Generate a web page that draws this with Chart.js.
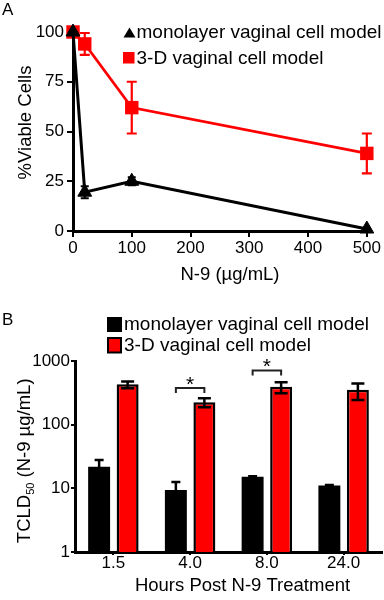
<!DOCTYPE html>
<html lang="en">
<head>
<meta charset="UTF-8">
<title>N-9 toxicity: monolayer vs 3-D vaginal cell models</title>
<script src="https://cdn.jsdelivr.net/npm/chart.js"></script>
<style>
    body { margin: 0; background: #fff; }
    .panel { position: relative; width: 384px; height: 300px; }
</style>
</head>
<body>
<div class="panel"><canvas id="chartA" width="384" height="300"></canvas></div>
<div class="panel"><canvas id="chartB" width="384" height="300"></canvas></div>
<script>
// ---- Panel A data: % viable cells vs N-9 dose ----
const doses = [0, 20, 100, 500];
const monoViable = [100, 19.5, 25, 1];
const monoViableErr = [0, 3, 2, 0];
const threeDViable = [100, 94, 62, 39];
const threeDViableErr = [0, 5.5, 13, 10];
const doseTicks = [0, 100, 200, 300, 400, 500];
const viableTicks = [0, 25, 50, 75, 100];

// ---- Panel B data: TCLD50 vs hours after treatment ----
const hours = ['1.5', '4.0', '8.0', '24.0'];
const monoTCLD = [21.8, 9.4, 15.2, 11.1];
const monoTCLDLo = [16.5, 6.8, 15.0, 10.9];
const monoTCLDHi = [27.8, 12.6, 15.5, 11.3];
const threeDTCLD = [433, 225, 393, 352];
const threeDTCLDLo = [374, 188, 312, 245];
const threeDTCLDHi = [475, 261, 465, 442];
const tcldTicks = [1, 10, 100, 1000];
const sigBrackets = [{ index: 1, value: 375 }, { index: 2, value: 710 }];

const seriesNames = ['monolayer vaginal cell model', '3-D vaginal cell model'];
const FONT = '"Liberation Sans", Arial, sans-serif';

// draws error bars from dataset.errorBars = {lo, hi, color, cap, width}
const errorBarPlugin = {
    id: 'errorBars',
    afterDatasetsDraw(chart) {
        const ctx = chart.ctx;
        const yScale = chart.scales.y;
        chart.data.datasets.forEach((ds, i) => {
            if (!ds.errorBars) return;
            const eb = ds.errorBars;
            const meta = chart.getDatasetMeta(i);
            ctx.save();
            ctx.strokeStyle = eb.color;
            ctx.lineWidth = eb.width;
            meta.data.forEach((el, j) => {
                if (eb.hi[j] === eb.lo[j]) return;
                const x = el.x;
                const yLo = yScale.getPixelForValue(eb.lo[j]);
                const yHi = yScale.getPixelForValue(eb.hi[j]);
                ctx.beginPath();
                ctx.moveTo(x, yLo); ctx.lineTo(x, yHi);
                ctx.moveTo(x - eb.cap, yHi); ctx.lineTo(x + eb.cap, yHi);
                ctx.moveTo(x - eb.cap, yLo); ctx.lineTo(x + eb.cap, yLo);
                ctx.stroke();
            });
            ctx.restore();
        });
    }
};

function textPlugin(drawFn) {
    return { id: 'texts', afterDraw(chart) { const ctx = chart.ctx; ctx.save(); ctx.fillStyle = '#000'; drawFn(ctx, chart); ctx.restore(); } };
}

// ---------------- Panel A ----------------
new Chart(document.getElementById('chartA'), {
    type: 'line',
    data: {
        datasets: [
            {
                label: seriesNames[0],
                data: doses.map((d, i) => ({ x: d, y: monoViable[i] })),
                borderColor: '#000',
                backgroundColor: '#000',
                borderWidth: 3,
                pointStyle: 'triangle',
                pointRadius: 8,
                pointHoverRadius: 8,
                pointBorderWidth: 1,
                tension: 0,
                clip: false,
                errorBars: {
                    lo: monoViable.map((v, i) => v - monoViableErr[i]),
                    hi: monoViable.map((v, i) => v + monoViableErr[i]),
                    color: '#000', cap: 4, width: 2
                }
            },
            {
                label: seriesNames[1],
                data: doses.map((d, i) => ({ x: d, y: threeDViable[i] })),
                borderColor: '#ff0000',
                backgroundColor: '#ff0000',
                borderWidth: 2.7,
                pointStyle: 'rect',
                pointRadius: 9.5,
                pointHoverRadius: 9.5,
                pointBorderWidth: 0,
                tension: 0,
                clip: false,
                errorBars: {
                    lo: threeDViable.map((v, i) => v - threeDViableErr[i]),
                    hi: threeDViable.map((v, i) => v + threeDViableErr[i]),
                    color: '#ff0000', cap: 5, width: 2.2
                }
            }
        ]
    },
    options: {
        responsive: false,
        animation: false,
        layout: { padding: { left: 0, right: 14, top: 32, bottom: 0 } },
        plugins: { legend: { display: false }, tooltip: { enabled: false } },
        scales: {
            x: {
                type: 'linear', min: 0, max: 500,
                afterBuildTicks: s => { s.ticks = doseTicks.map(v => ({ value: v })); },
                afterFit: s => { s.height = 69; },
                grid: { drawOnChartArea: false, color: '#000', lineWidth: 2, tickLength: 6 },
                border: { color: '#000', width: 3 },
                ticks: { color: '#000', padding: 3, maxRotation: 0, font: { family: FONT, size: 17, lineHeight: 1 } }
            },
            y: {
                min: 0, max: 100,
                afterBuildTicks: s => { s.ticks = viableTicks.map(v => ({ value: v })); },
                afterFit: s => { s.width = 73; },
                grid: { drawOnChartArea: false, color: '#000', lineWidth: 2, tickLength: 6 },
                border: { color: '#000', width: 3 },
                ticks: { color: '#000', padding: 3, font: { family: FONT, size: 17, lineHeight: 1 } }
            }
        }
    },
    plugins: [errorBarPlugin, textPlugin((ctx) => {
        ctx.font = '17px ' + FONT;
        ctx.textBaseline = 'alphabetic';
        ctx.fillText('A', 2, 15);

        // legend
        ctx.beginPath();
        ctx.moveTo(129.5, 27.5); ctx.lineTo(135.5, 37.5); ctx.lineTo(123.5, 37.5);
        ctx.closePath(); ctx.fill();
        ctx.fillStyle = '#ff0000';
        ctx.fillRect(123, 52, 11.5, 11.5);
        ctx.fillStyle = '#000';
        ctx.font = '19px ' + FONT;
        ctx.textBaseline = 'middle';
        ctx.fillText(seriesNames[0], 136.5, 33);
        ctx.fillText(seriesNames[1], 136.5, 58.5);

        // axis titles
        ctx.font = '18.5px ' + FONT;
        ctx.textAlign = 'center';
        ctx.fillText('N-9 (µg/mL)', 230, 275);
        ctx.translate(25.5, 122.5);
        ctx.rotate(-Math.PI / 2);
        ctx.fillText('%Viable Cells', 0, 0);
    })]
});

// ---------------- Panel B ----------------
new Chart(document.getElementById('chartB'), {
    type: 'bar',
    data: {
        labels: hours,
        datasets: [
            {
                label: seriesNames[0],
                data: monoTCLD,
                backgroundColor: '#000',
                borderColor: '#000',
                borderWidth: 0,
                errorBars: { lo: monoTCLDLo, hi: monoTCLDHi, color: '#000', cap: 4.5, width: 2.5 }
            },
            {
                label: seriesNames[1],
                data: threeDTCLD,
                backgroundColor: '#ff0000',
                borderColor: '#000',
                borderWidth: 2.5,
                errorBars: { lo: threeDTCLDLo, hi: threeDTCLDHi, color: '#000', cap: 6.5, width: 2.5 }
            }
        ]
    },
    options: {
        responsive: false,
        animation: false,
        datasets: { bar: { categoryPercentage: 0.743, barPercentage: 0.77 } },
        layout: { padding: { left: 0, right: 2, top: 61, bottom: 0 } },
        plugins: { legend: { display: false }, tooltip: { enabled: false } },
        scales: {
            x: {
                afterFit: s => { s.height = 48; },
                grid: { drawOnChartArea: false, offset: false, color: '#000', lineWidth: 2, tickLength: 3 },
                border: { color: '#000', width: 3 },
                ticks: { color: '#000', padding: 0, maxRotation: 0, font: { family: FONT, size: 17, lineHeight: 1 } }
            },
            y: {
                type: 'logarithmic', min: 1, max: 1000,
                afterBuildTicks: s => { s.ticks = tcldTicks.map(v => ({ value: v })); },
                afterFit: s => { s.width = 75; },
                grid: { drawOnChartArea: false, color: '#000', lineWidth: 2, tickLength: 4 },
                border: { color: '#000', width: 3 },
                ticks: { color: '#000', padding: 1, callback: v => String(v), font: { family: FONT, size: 17, lineHeight: 1 } }
            }
        }
    },
    plugins: [errorBarPlugin, textPlugin((ctx, chart) => {
        ctx.font = '17px ' + FONT;
        ctx.textBaseline = 'alphabetic';
        ctx.fillText('B', 2, 25);

        // significance brackets between the two bars of a group
        const blackBars = chart.getDatasetMeta(0).data;
        const redBars = chart.getDatasetMeta(1).data;
        ctx.strokeStyle = '#222';
        ctx.lineWidth = 2;
        ctx.textAlign = 'center';
        ctx.font = '21px ' + FONT;
        sigBrackets.forEach(b => {
            const x1 = blackBars[b.index].x, x2 = redBars[b.index].x;
            const y = chart.scales.y.getPixelForValue(b.value);
            ctx.beginPath();
            ctx.moveTo(x1, y + 5); ctx.lineTo(x1, y); ctx.lineTo(x2, y); ctx.lineTo(x2, y + 5);
            ctx.stroke();
            ctx.fillText('*', (x1 + x2) / 2, y + 3);
        });

        // legend
        ctx.textAlign = 'left';
        ctx.fillRect(107, 17, 15, 15);
        ctx.fillRect(107, 37, 15, 16.5);
        ctx.fillStyle = '#ff0000';
        ctx.fillRect(109, 39, 11, 12.5);
        ctx.fillStyle = '#000';
        ctx.font = '19px ' + FONT;
        ctx.textBaseline = 'middle';
        ctx.fillText(seriesNames[0], 124, 24.5);
        ctx.fillText(seriesNames[1], 124, 45.5);

        // x title
        ctx.font = '18.5px ' + FONT;
        ctx.textAlign = 'center';
        ctx.fillText('Hours Post N-9 Treatment', 242.5, 286);

        // y title with subscript
        const big = '18.5px ' + FONT, small = '11px ' + FONT;
        ctx.font = big;
        const w1 = ctx.measureText('TCLD').width;
        const w3 = ctx.measureText(' (N-9 µg/mL)').width;
        ctx.font = small;
        const w2 = ctx.measureText('50').width;
        ctx.translate(25, 160.8);
        ctx.rotate(-Math.PI / 2);
        ctx.textAlign = 'left';
        let x = -(w1 + w2 + w3) / 2;
        ctx.font = big; ctx.fillText('TCLD', x, 0); x += w1;
        ctx.font = small; ctx.fillText('50', x, 5.5); x += w2;
        ctx.font = big; ctx.fillText(' (N-9 µg/mL)', x, 0);
    })]
});
</script>
</body>
</html>
